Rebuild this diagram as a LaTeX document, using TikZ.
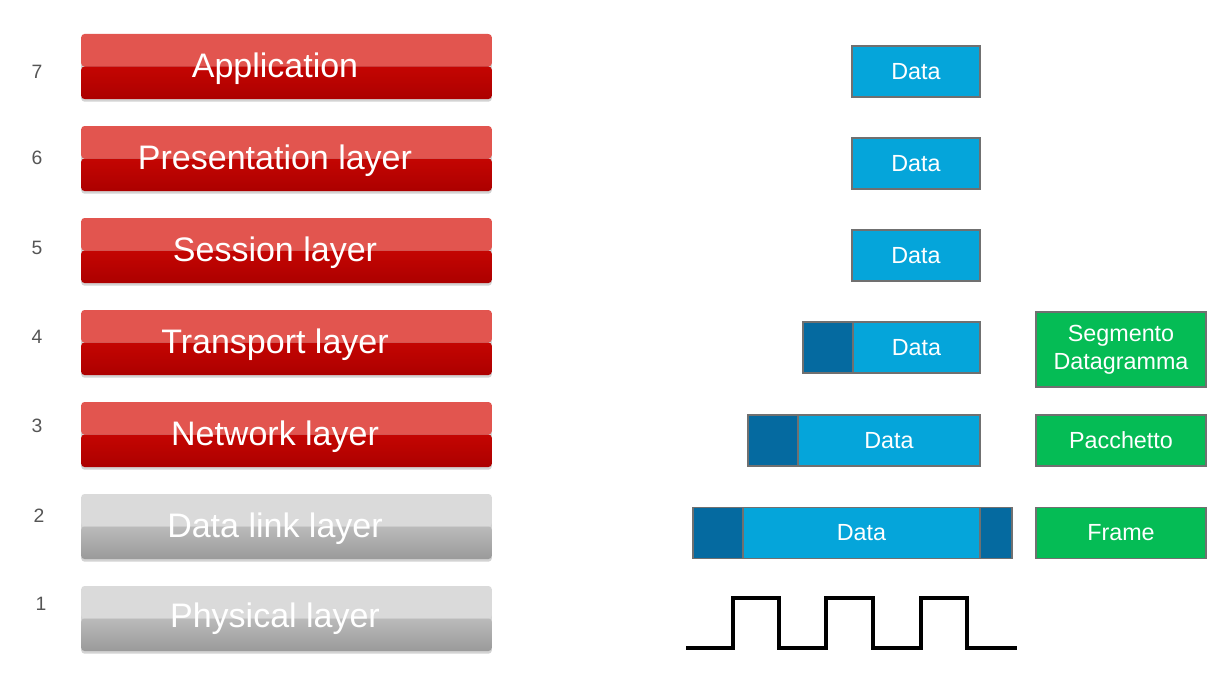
\documentclass[tikz,border=0pt]{standalone}
\usepackage{fontspec}
\setmainfont{Liberation Sans}
\usetikzlibrary{positioning,shadows}
\definecolor{redtop}{HTML}{E2554F}
\definecolor{redmid}{HTML}{C40502}
\definecolor{redbot}{HTML}{AC0000}
\definecolor{greytop}{HTML}{DADADA}
\definecolor{greymid}{HTML}{BABABA}
\definecolor{greybot}{HTML}{9A9A9A}
\definecolor{datablue}{HTML}{05A5DA}
\definecolor{hdrblue}{HTML}{056AA0}
\definecolor{pdugreen}{HTML}{05BC55}
\definecolor{edgegrey}{HTML}{707070}
\definecolor{numgrey}{HTML}{555555}
\begin{document}
\begin{tikzpicture}[x=0.75pt,y=-0.75pt]
		\tikzset{layerbar/.style = {rounded corners=2.5pt, minimum width=308pt, minimum height=48.75pt, inner sep=0pt,
				drop shadow={shadow xshift=0pt, shadow yshift=-2pt, opacity=.35},
				path picture={\fill[#1top] (path picture bounding box.north west) rectangle (path picture bounding box.east);
					\shade[top color=#1mid, bottom color=#1bot] (path picture bounding box.west) rectangle (path picture bounding box.south east);}}}
		\tikzset{layername/.style = {text=white, inner sep=0pt, font=\fontsize{25.5}{30}\selectfont}}
		\tikzset{num/.style = {text=numgrey, font=\fontsize{14.5}{17}\selectfont}}
		\tikzset{pdu/.style = {draw=edgegrey, line width=1.1pt, fill=datablue, text=white, minimum height=38.25pt,
				inner sep=0pt, outer sep=0pt, font=\fontsize{17.5}{21}\selectfont}}
		\tikzset{hdr/.style = {pdu, fill=hdrblue, minimum width=37.5pt}}
		\tikzset{pduname/.style = {pdu, fill=pdugreen, minimum width=127.5pt, align=center}}
		\useasboundingbox (0,0) rectangle (1216,674);
		% OSI layers
		\node[layerbar=red] (appbar) at (286.5,66.5) {};
		\node[layerbar=red] (presbar) at (286.5,158.5) {};
		\node[layerbar=red] (sessbar) at (286.5,250.5) {};
		\node[layerbar=red] (transbar) at (286.5,342.5) {};
		\node[layerbar=red] (netbar) at (286.5,434.5) {};
		\node[layerbar=grey] (linkbar) at (286.5,526.5) {};
		\node[layerbar=grey] (physbar) at (286.5,618.5) {};
		\node[layername] (app) at (275,69) {Application};
		\node[layername] (pres) at (275,161) {Presentation layer};
		\node[layername] (sess) at (275,253) {Session layer};
		\node[layername] (trans) at (275,345) {Transport layer};
		\node[layername] (net) at (275,437) {Network layer};
		\node[layername] (link) at (275,529) {Data link layer};
		\node[layername] (phys) at (275,619) {Physical layer};
		\node[num] (n7) at (37,72) {7};
		\node[num] (n6) at (37,158) {6};
		\node[num] (n5) at (37,248) {5};
		\node[num] (n4) at (37,337) {4};
		\node[num] (n3) at (37,426) {3};
		\node[num] (n2) at (39,516) {2};
		\node[num] (n1) at (41,604) {1};
		% encapsulation
		\node[pdu, minimum width=96pt] (data7) at (916,71.5) {Data};
		\node[pdu, minimum width=96pt] (data6) at (916,163.5) {Data};
		\node[pdu, minimum width=96pt] (data5) at (916,255.5) {Data};
		\node[pdu, minimum width=95.25pt] (data4) at (916.5,347.5) {Data};
		\node[hdr, left=0pt of data4] (hdr4) {};
		\node[pdu, minimum width=136.5pt] (data3) at (889,440.5) {Data};
		\node[hdr, left=0pt of data3] (hdr3) {};
		\node[pdu, minimum width=177.75pt] (data2) at (861.5,533) {Data};
		\node[hdr, left=0pt of data2] (hdr2) {};
		\node[hdr, minimum width=24pt, right=0pt of data2] (trl2) {};
		\node[pduname, minimum height=56.25pt] (seg) at (1121,349.5) {Segmento\\Datagramma};
		\node[pduname] (pkt) at (1121,440.5) {Pacchetto};
		\node[pduname] (frm) at (1121,533) {Frame};
		% bits
		\draw[line width=2.3pt] (686,648) -- (733,648) -- (733,598) -- (779,598) -- (779,648) -- (826,648) -- (826,598)
			-- (873,598) -- (873,648) -- (921,648) -- (921,598) -- (967,598) -- (967,648) -- (1017,648);
	\end{tikzpicture}
\end{document}
